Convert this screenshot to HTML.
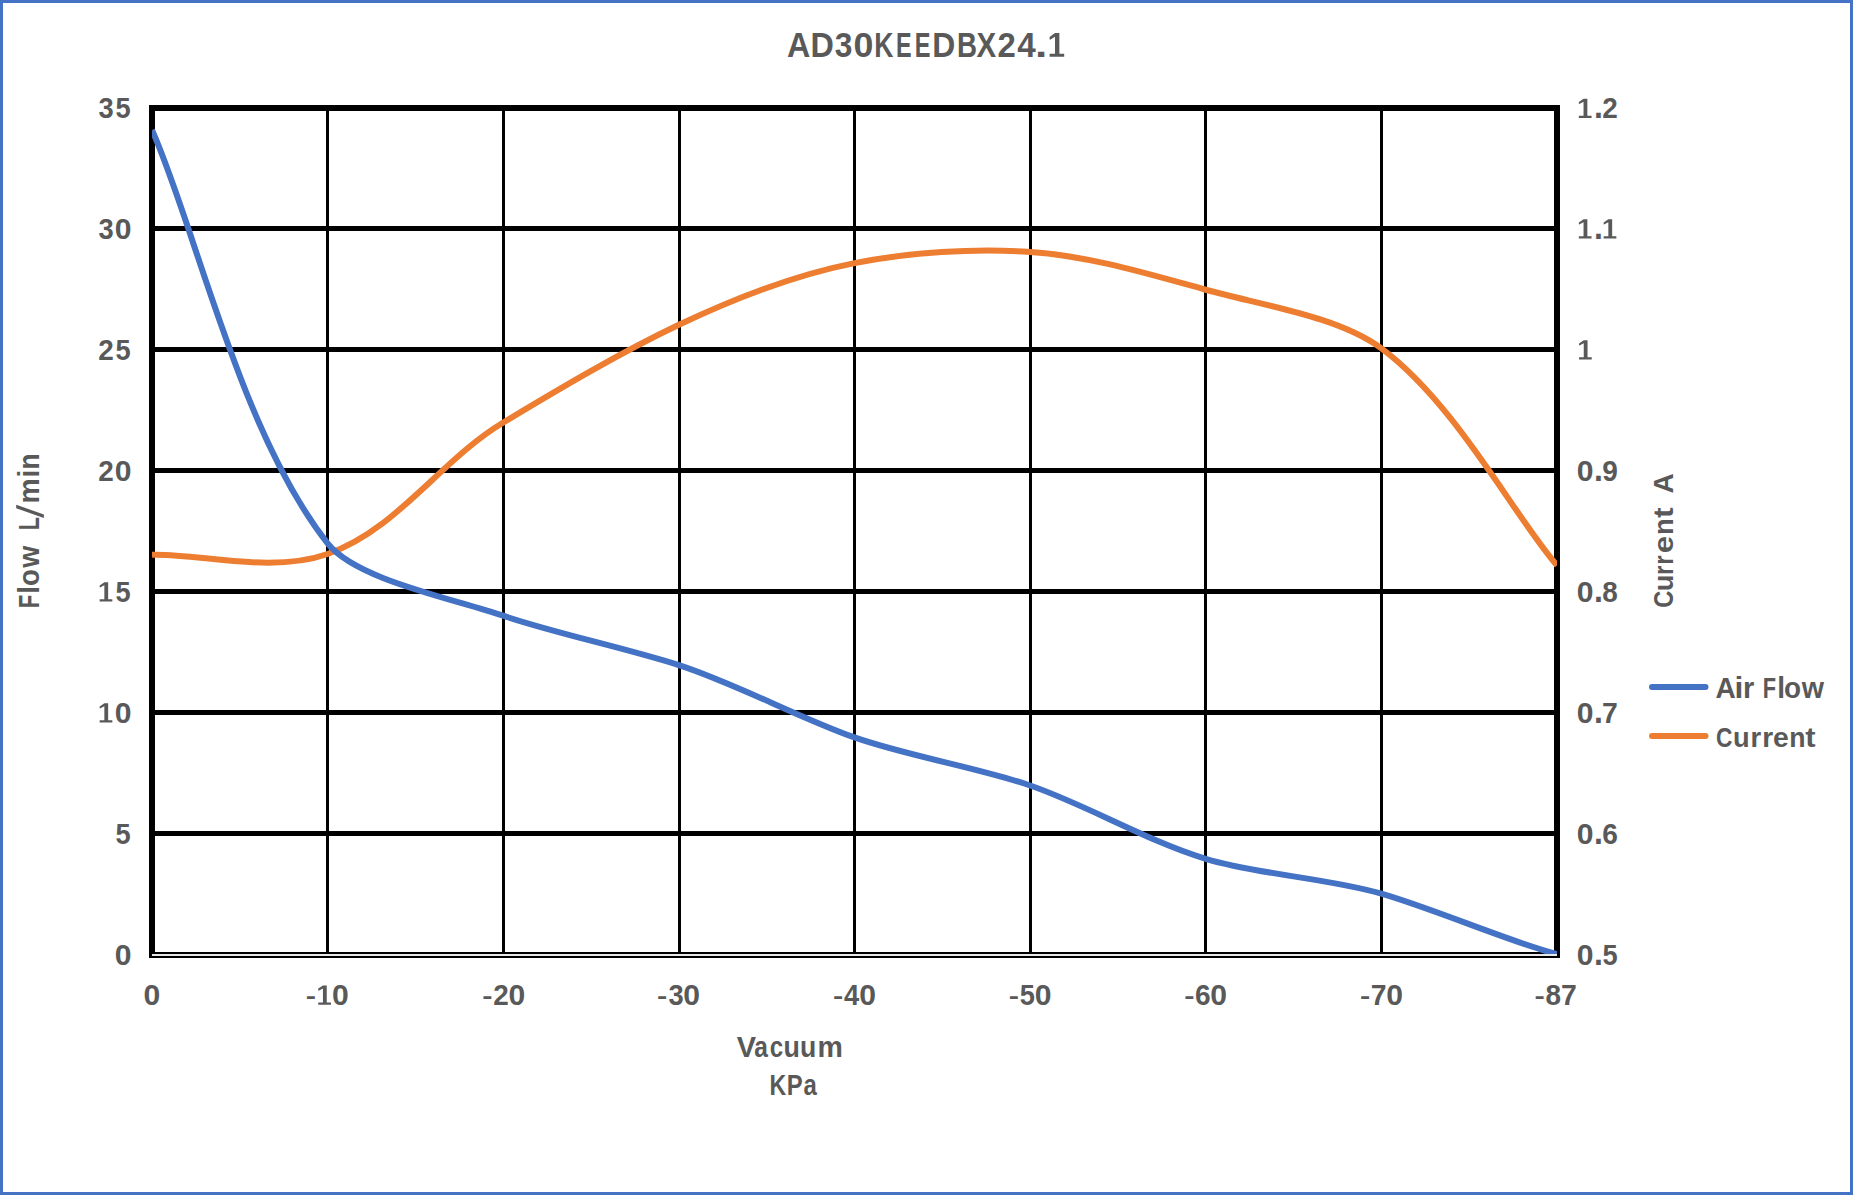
<!DOCTYPE html>
<html><head><meta charset="utf-8"><title>AD30KEEDBX24.1</title>
<style>
html,body{margin:0;padding:0;background:#fff;}
body{width:1853px;height:1195px;overflow:hidden;}
svg{display:block;}
text{font-family:"Liberation Sans",sans-serif;font-weight:bold;fill:#595959;}
</style></head><body>
<svg width="1853" height="1195" viewBox="0 0 1853 1195">
<rect x="0" y="0" width="1853" height="1195" fill="#fff"/>
<rect x="1.5" y="1.5" width="1850" height="1192" fill="none" stroke="#4472C4" stroke-width="3"/>

<g fill="#000"><rect x="149" y="226" width="1411" height="5"/><rect x="149" y="347" width="1411" height="5"/><rect x="149" y="468" width="1411" height="5"/><rect x="149" y="589" width="1411" height="5"/><rect x="149" y="710" width="1411" height="5"/><rect x="149" y="831" width="1411" height="5"/><rect x="326" y="105" width="3" height="853"/><rect x="502" y="105" width="3" height="853"/><rect x="678" y="105" width="3" height="853"/><rect x="853" y="105" width="3" height="853"/><rect x="1029" y="105" width="3" height="853"/><rect x="1204" y="105" width="3" height="853"/><rect x="1380" y="105" width="3" height="853"/><rect x="149" y="105" width="1411" height="6"/><rect x="149" y="952" width="1411" height="6"/><rect x="149" y="105" width="6" height="853"/><rect x="1554" y="105" width="6" height="853"/></g>
<rect x="152" y="954" width="1405" height="2" fill="#E8E8E8"/>
<defs><clipPath id="pc"><rect x="152" y="100" width="1405" height="854"/></clipPath></defs>
<path d="M152.00 554.80 C198.11 553.08 270.89 573.95 327.62 553.99 C397.66 529.35 439.94 460.52 503.25 422.54 C558.95 389.13 619.80 352.92 678.88 324.83 C732.92 299.13 795.56 274.66 854.50 263.10 C909.55 252.31 973.30 248.10 1030.12 251.94 C1089.39 255.94 1147.37 273.74 1205.75 289.74 C1263.51 305.56 1338.48 316.60 1381.38 348.42 C1455.51 403.41 1513.23 514.52 1557.00 565.39" fill="none" stroke="#ED7D31" stroke-width="6" stroke-linejoin="round" stroke-linecap="butt" clip-path="url(#pc)"/>
<path d="M152.00 130.01 C195.96 228.50 239.89 431.97 327.62 543.37 C356.24 579.70 450.85 597.93 503.25 615.71 C553.53 632.78 627.26 648.42 678.88 665.07 C734.15 682.90 798.56 717.57 854.50 737.42 C905.33 755.46 978.29 767.74 1030.12 785.47 C1085.48 804.40 1147.47 841.17 1205.75 858.76 C1258.79 874.76 1328.00 878.13 1381.38 893.70 C1435.95 909.62 1515.78 944.06 1557.00 954.12" fill="none" stroke="#4472C4" stroke-width="6" stroke-linejoin="round" stroke-linecap="butt" clip-path="url(#pc)"/>
<text transform="translate(786.99 56.80) scale(0.9386 1)" font-size="34.35">A</text><text transform="translate(810.60 56.80) scale(0.9421 1)" font-size="34.35">D</text><text transform="translate(834.81 56.80) scale(0.9234 1)" font-size="34.35">3</text><text transform="translate(853.57 56.80) scale(1.0420 1)" font-size="34.35">0</text><text transform="translate(874.18 56.80) scale(0.7719 1)" font-size="34.35">K</text><text transform="translate(896.08 56.80) scale(0.6802 1)" font-size="34.35">E</text><text transform="translate(914.77 56.80) scale(0.6853 1)" font-size="34.35">E</text><text transform="translate(932.13 56.80) scale(0.9279 1)" font-size="34.35">D</text><text transform="translate(957.10 56.80) scale(0.8066 1)" font-size="34.35">B</text><text transform="translate(976.61 56.80) scale(0.8576 1)" font-size="34.35">X</text><text transform="translate(997.55 56.80) scale(0.9583 1)" font-size="34.35">2</text><text transform="translate(1017.30 56.80) scale(0.9687 1)" font-size="34.35">4</text><text transform="translate(1034.90 56.80) scale(1.2893 1)" font-size="34.35">.</text>
<path transform="translate(1049.60 56.80) scale(1.1496 1.2216)" d="M4.7 -19.4L8.5 -19.4L8.5 -2.4L12.7 -2.4L12.7 0L0 0L0 -2.4L4.7 -2.4L4.7 -16.4L0.4 -14.0L0 -14.3L0 -16.2Z" fill="#595959"/>
<text transform="translate(98.57 118.25) scale(0.9367 1)" font-size="29.12">3</text><text transform="translate(115.58 118.25) scale(0.9342 1)" font-size="29.12">5</text>
<path transform="translate(1578.85 118.10) scale(1.0000 1.0000)" d="M4.7 -19.4L8.5 -19.4L8.5 -2.4L12.7 -2.4L12.7 0L0 0L0 -2.4L4.7 -2.4L4.7 -16.4L0.4 -14.0L0 -14.3L0 -16.2Z" fill="#595959"/><text transform="translate(1593.95 118.10) scale(1.1316 1.2204)" font-size="28.41">.</text><text transform="translate(1602.32 118.25) scale(0.9588 1)" font-size="29.12">2</text>
<text transform="translate(98.57 238.75) scale(0.9367 1)" font-size="29.12">3</text><text transform="translate(114.85 238.75) scale(1.0340 1)" font-size="29.12">0</text>
<path transform="translate(1578.85 238.60) scale(1.0000 1.0000)" d="M4.7 -19.4L8.5 -19.4L8.5 -2.4L12.7 -2.4L12.7 0L0 0L0 -2.4L4.7 -2.4L4.7 -16.4L0.4 -14.0L0 -14.3L0 -16.2Z" fill="#595959"/><text transform="translate(1593.95 238.60) scale(1.1316 1.2204)" font-size="28.41">.</text><path transform="translate(1603.65 238.60) scale(1.0000 1.0000)" d="M4.7 -19.4L8.5 -19.4L8.5 -2.4L12.7 -2.4L12.7 0L0 0L0 -2.4L4.7 -2.4L4.7 -16.4L0.4 -14.0L0 -14.3L0 -16.2Z" fill="#595959"/>
<text transform="translate(98.32 359.75) scale(0.9588 1)" font-size="29.12">2</text><text transform="translate(115.58 359.75) scale(0.9342 1)" font-size="29.12">5</text>
<path transform="translate(1579.05 359.60) scale(1.0000 1.0000)" d="M4.7 -19.4L8.5 -19.4L8.5 -2.4L12.7 -2.4L12.7 0L0 0L0 -2.4L4.7 -2.4L4.7 -16.4L0.4 -14.0L0 -14.3L0 -16.2Z" fill="#595959"/>
<text transform="translate(98.32 480.75) scale(0.9588 1)" font-size="29.12">2</text><text transform="translate(114.85 480.75) scale(1.0340 1)" font-size="29.12">0</text>
<text transform="translate(1576.85 480.75) scale(1.0340 1)" font-size="29.12">0</text><text transform="translate(1593.95 480.60) scale(1.1316 1.2204)" font-size="28.41">.</text><text transform="translate(1602.22 480.75) scale(0.9631 1)" font-size="29.12">9</text>
<path transform="translate(99.65 601.60) scale(1.0000 1.0000)" d="M4.7 -19.4L8.5 -19.4L8.5 -2.4L12.7 -2.4L12.7 0L0 0L0 -2.4L4.7 -2.4L4.7 -16.4L0.4 -14.0L0 -14.3L0 -16.2Z" fill="#595959"/><text transform="translate(115.58 601.75) scale(0.9342 1)" font-size="29.12">5</text>
<text transform="translate(1576.85 601.75) scale(1.0340 1)" font-size="29.12">0</text><text transform="translate(1593.95 601.60) scale(1.1316 1.2204)" font-size="28.41">.</text><text transform="translate(1602.26 601.75) scale(0.9575 1)" font-size="29.12">8</text>
<path transform="translate(99.65 722.60) scale(1.0000 1.0000)" d="M4.7 -19.4L8.5 -19.4L8.5 -2.4L12.7 -2.4L12.7 0L0 0L0 -2.4L4.7 -2.4L4.7 -16.4L0.4 -14.0L0 -14.3L0 -16.2Z" fill="#595959"/><text transform="translate(114.85 722.75) scale(1.0340 1)" font-size="29.12">0</text>
<text transform="translate(1576.85 722.75) scale(1.0340 1)" font-size="29.12">0</text><text transform="translate(1593.95 722.60) scale(1.1316 1.2204)" font-size="28.41">.</text><text transform="translate(1602.12 722.75) scale(0.9750 1)" font-size="29.12">7</text>
<text transform="translate(115.48 843.75) scale(0.9342 1)" font-size="29.12">5</text>
<text transform="translate(1576.85 843.75) scale(1.0340 1)" font-size="29.12">0</text><text transform="translate(1593.95 843.60) scale(1.1316 1.2204)" font-size="28.41">.</text><text transform="translate(1602.22 843.75) scale(0.9631 1)" font-size="29.12">6</text>
<text transform="translate(114.75 965.25) scale(1.0340 1)" font-size="29.12">0</text>
<text transform="translate(1576.85 965.25) scale(1.0340 1)" font-size="29.12">0</text><text transform="translate(1593.95 965.10) scale(1.1316 1.2204)" font-size="28.41">.</text><text transform="translate(1602.38 965.25) scale(0.9342 1)" font-size="29.12">5</text>
<text transform="translate(143.45 1004.95) scale(1.0340 1)" font-size="29.12">0</text>
<text transform="translate(305.84 1003.63) scale(1.0837 0.8508)" font-size="28.41">-</text><path transform="translate(318.25 1004.80) scale(1.0000 1.0000)" d="M4.7 -19.4L8.5 -19.4L8.5 -2.4L12.7 -2.4L12.7 0L0 0L0 -2.4L4.7 -2.4L4.7 -16.4L0.4 -14.0L0 -14.3L0 -16.2Z" fill="#595959"/><text transform="translate(332.05 1004.95) scale(1.0340 1)" font-size="29.12">0</text>
<text transform="translate(482.24 1003.63) scale(1.0837 0.8508)" font-size="28.41">-</text><text transform="translate(493.32 1004.95) scale(0.9588 1)" font-size="29.12">2</text><text transform="translate(508.45 1004.95) scale(1.0340 1)" font-size="29.12">0</text>
<text transform="translate(657.09 1003.63) scale(1.0837 0.8508)" font-size="28.41">-</text><text transform="translate(668.42 1004.95) scale(0.9367 1)" font-size="29.12">3</text><text transform="translate(683.30 1004.95) scale(1.0340 1)" font-size="29.12">0</text>
<text transform="translate(832.94 1003.63) scale(1.0837 0.8508)" font-size="28.41">-</text><text transform="translate(843.99 1004.95) scale(0.9373 1)" font-size="29.12">4</text><text transform="translate(859.15 1004.95) scale(1.0340 1)" font-size="29.12">0</text>
<text transform="translate(1008.64 1003.63) scale(1.0837 0.8508)" font-size="28.41">-</text><text transform="translate(1019.78 1004.95) scale(0.9342 1)" font-size="29.12">5</text><text transform="translate(1034.85 1004.95) scale(1.0340 1)" font-size="29.12">0</text>
<text transform="translate(1184.14 1003.63) scale(1.0837 0.8508)" font-size="28.41">-</text><text transform="translate(1195.12 1004.95) scale(0.9631 1)" font-size="29.12">6</text><text transform="translate(1210.35 1004.95) scale(1.0340 1)" font-size="29.12">0</text>
<text transform="translate(1359.99 1003.63) scale(1.0837 0.8508)" font-size="28.41">-</text><text transform="translate(1370.87 1004.95) scale(0.9750 1)" font-size="29.12">7</text><text transform="translate(1386.20 1004.95) scale(1.0340 1)" font-size="29.12">0</text>
<text transform="translate(1534.44 1003.63) scale(1.0837 0.8508)" font-size="28.41">-</text><text transform="translate(1545.46 1004.95) scale(0.9575 1)" font-size="29.12">8</text><text transform="translate(1561.12 1004.95) scale(0.9750 1)" font-size="29.12">7</text>
<text transform="translate(736.81 1056.90) scale(0.9978 1)" font-size="28.99">V</text><text transform="translate(754.16 1056.90) scale(0.8462 1)" font-size="28.99">a</text><text transform="translate(769.84 1056.90) scale(0.8323 1)" font-size="28.99">c</text><text transform="translate(783.39 1056.90) scale(0.9247 1)" font-size="28.99">u</text><text transform="translate(800.00 1056.90) scale(0.9176 1)" font-size="28.99">u</text><text transform="translate(817.54 1056.90) scale(0.9851 1)" font-size="28.99">m</text>
<text transform="translate(769.50 1094.80) scale(0.8050 1)" font-size="28.70">K</text><text transform="translate(786.75 1094.80) scale(0.8315 1)" font-size="28.70">P</text><text transform="translate(803.48 1094.80) scale(0.8350 1)" font-size="28.70">a</text>
<polygon points="16.2,504.8 16.2,508.3 43.9,517.9 43.9,514.4" fill="#595959"/>
<text transform="translate(39.10 608.35) rotate(-90) scale(0.7712 1.0000)" font-size="28.99">F</text><text transform="translate(39.10 593.82) rotate(-90) scale(0.9456 1.0000)" font-size="28.99">l</text><text transform="translate(39.10 585.91) rotate(-90) scale(0.9569 1.0000)" font-size="28.99">o</text><text transform="translate(39.10 567.80) rotate(-90) scale(0.9775 1.0000)" font-size="28.99">w</text><text transform="translate(39.10 530.29) rotate(-90) scale(0.7369 1.0000)" font-size="28.99">L</text><text transform="translate(39.10 503.44) rotate(-90) scale(0.9760 1.0000)" font-size="28.99">m</text><text transform="translate(39.10 477.62) rotate(-90) scale(0.9456 1.0000)" font-size="28.99">i</text><text transform="translate(39.10 469.42) rotate(-90) scale(0.9105 1.0000)" font-size="28.99">n</text>
<text transform="translate(1672.80 607.75) rotate(-90) scale(0.8331 1.0000)" font-size="28.41">C</text><text transform="translate(1672.80 591.13) rotate(-90) scale(0.9581 1.0000)" font-size="28.41">u</text><text transform="translate(1672.80 575.07) rotate(-90) scale(0.8517 1.0000)" font-size="28.41">r</text><text transform="translate(1672.80 564.77) rotate(-90) scale(0.8517 1.0000)" font-size="28.41">r</text><text transform="translate(1672.80 553.25) rotate(-90) scale(1.1001 1.0000)" font-size="28.41">e</text><text transform="translate(1672.80 535.07) rotate(-90) scale(0.9581 1.0000)" font-size="28.41">n</text><text transform="translate(1672.80 518.12) rotate(-90) scale(1.1129 1.0000)" font-size="28.41">t</text><text transform="translate(1672.80 493.50) rotate(-90) scale(0.9826 1.0000)" font-size="28.41">A</text>
<text transform="translate(1715.50 697.90) scale(0.9729 1)" font-size="28.84">A</text><text transform="translate(1734.57 697.90) scale(1.1044 1)" font-size="28.84">i</text><text transform="translate(1743.01 697.90) scale(1.0066 1)" font-size="28.84">r</text><text transform="translate(1762.79 697.90) scale(0.7547 1)" font-size="28.84">F</text><text transform="translate(1777.13 697.90) scale(0.9760 1)" font-size="28.84">l</text><text transform="translate(1783.98 697.90) scale(0.9682 1)" font-size="28.84">o</text><text transform="translate(1801.70 697.90) scale(0.9913 1)" font-size="28.84">w</text>
<text transform="translate(1716.09 746.60) scale(0.8049 1)" font-size="28.26">C</text><text transform="translate(1733.07 746.60) scale(0.9630 1)" font-size="28.26">u</text><text transform="translate(1750.42 746.60) scale(0.9702 1)" font-size="28.26">r</text><text transform="translate(1762.28 746.60) scale(0.9931 1)" font-size="28.26">r</text><text transform="translate(1772.97 746.60) scale(1.0026 1)" font-size="28.26">e</text><text transform="translate(1789.37 746.60) scale(0.9412 1)" font-size="28.26">n</text><text transform="translate(1805.19 746.60) scale(1.0958 1)" font-size="28.26">t</text>
<line x1="1652" y1="687" x2="1705.5" y2="687" stroke="#4472C4" stroke-width="6" stroke-linecap="round"/>
<line x1="1652" y1="736" x2="1705.5" y2="736" stroke="#ED7D31" stroke-width="6" stroke-linecap="round"/>
</svg></body></html>
